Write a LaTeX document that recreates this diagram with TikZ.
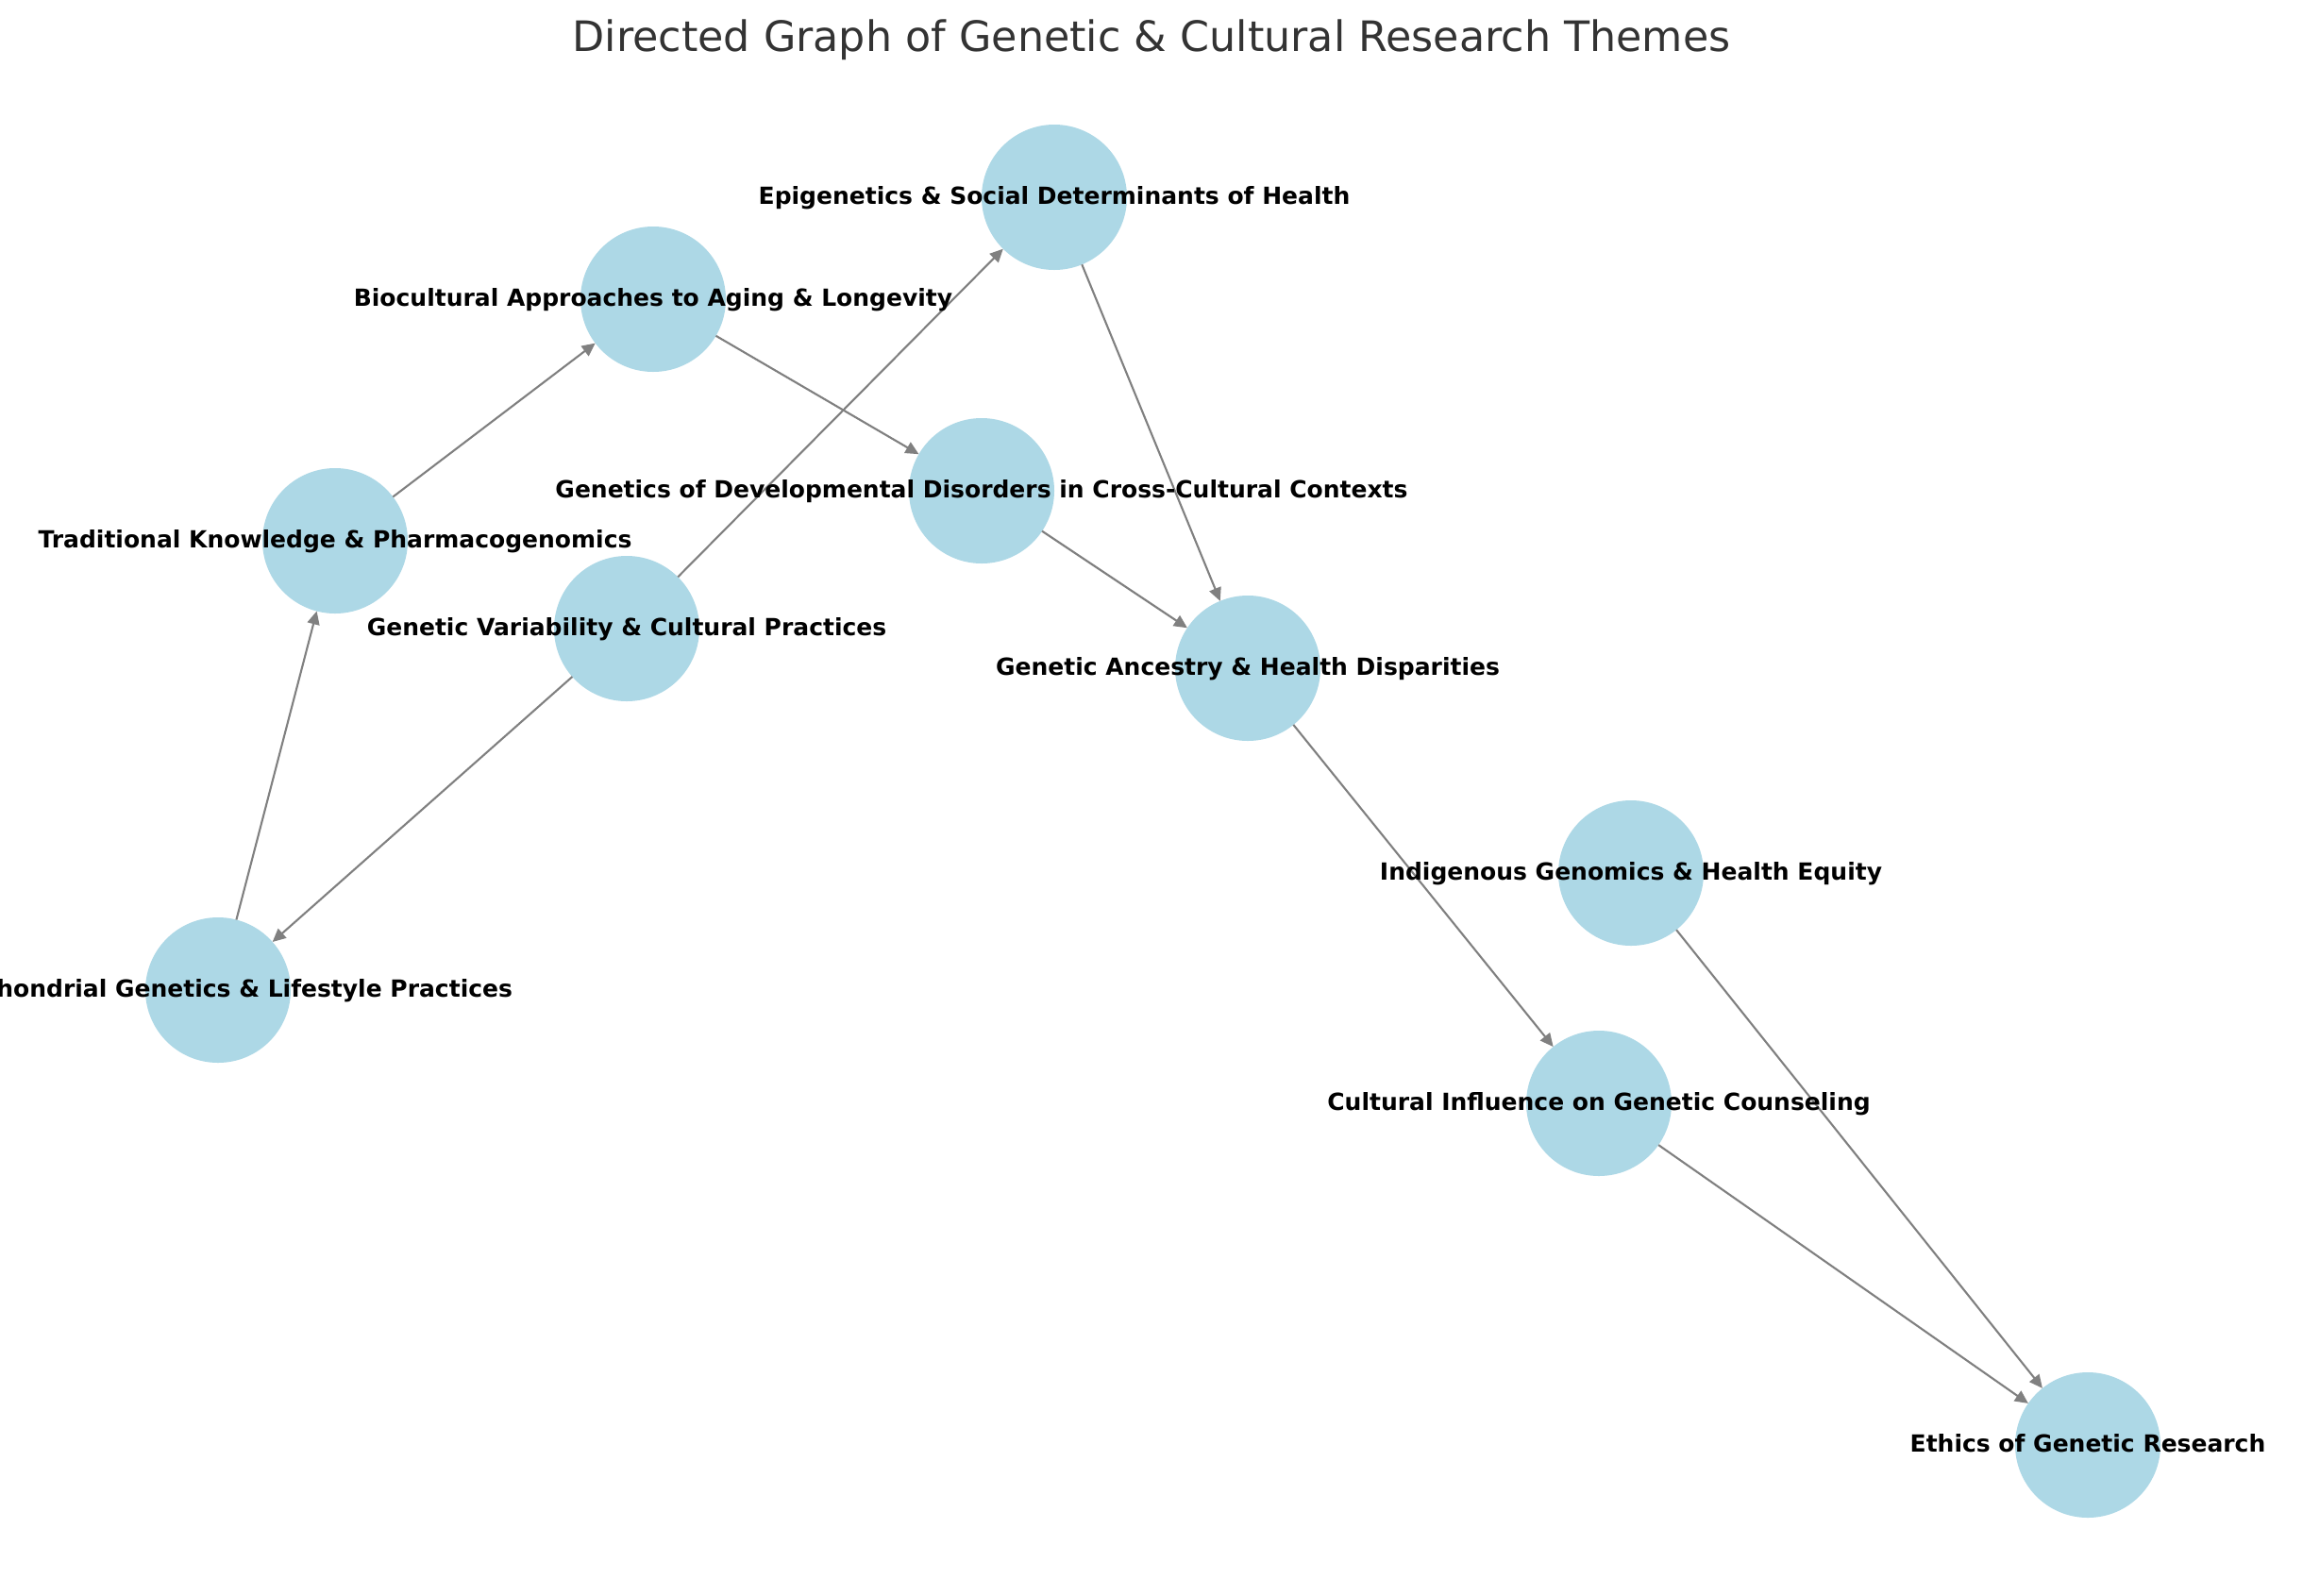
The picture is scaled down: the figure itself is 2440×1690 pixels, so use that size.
\documentclass[tikz,border=0pt]{standalone}
\usepackage{fontspec}
\setmainfont{DejaVu Sans}
\usetikzlibrary{arrows.meta}
\definecolor{nodeblue}{HTML}{ADD8E6}
\definecolor{edgegray}{HTML}{808080}
\definecolor{titlegray}{HTML}{333333}
\begin{document}
\begin{tikzpicture}[x=1pt,y=-1pt,
  topic/.style={circle,fill=nodeblue,draw=none,minimum size=154pt,inner sep=0pt,outer sep=0pt},
  lbl/.style={anchor=base,inner sep=0pt,font=\fontsize{25}{30}\selectfont\bfseries,text=black},
  edge/.style={draw=edgegray,line width=2.1pt,-{Triangle[length=14pt,width=13pt]}},
  ttl/.style={anchor=base,inner sep=0pt,font=\fontsize{44.4}{54}\selectfont,text=titlegray}]
\useasboundingbox (0,0) rectangle (2440,1690);
\clip (0,0) rectangle (2440,1690);
\fill[white] (0,0) rectangle (2440,1690);
\node[ttl] (title) at (1220,54) {Directed Graph of Genetic \& Cultural Research Themes};
% nodes
\node[topic] (epi) at (1117,209) {};
\node[topic] (bio) at (692,317) {};
\node[topic] (dev) at (1040,520) {};
\node[topic] (tra) at (355,573) {};
\node[topic] (var) at (664,666) {};
\node[topic] (anc) at (1322,708) {};
\node[topic] (ind) at (1728,925) {};
\node[topic] (mit) at (231,1049) {};
\node[topic] (cou) at (1694,1169) {};
\node[topic] (eth) at (2212,1531) {};
% edges
\draw[edge] (tra) -- (bio);
\draw[edge] (bio) -- (dev);
\draw[edge] (var) -- (epi);
\draw[edge] (var) -- (mit);
\draw[edge] (mit) -- (tra);
\draw[edge] (epi) -- (anc);
\draw[edge] (dev) -- (anc);
\draw[edge] (anc) -- (cou);
\draw[edge] (cou) -- (eth);
\draw[edge] (ind) -- (eth);
% labels
\node[lbl] (epiL) at ([yshift=-7.5pt]epi.center) {Epigenetics \& Social Determinants of Health};
\node[lbl] (bioL) at ([yshift=-7.5pt]bio.center) {Biocultural Approaches to Aging \& Longevity};
\node[lbl] (devL) at ([yshift=-7.5pt]dev.center) {Genetics of Developmental Disorders in Cross-Cultural Contexts};
\node[lbl] (traL) at ([yshift=-7.5pt]tra.center) {Traditional Knowledge \& Pharmacogenomics};
\node[lbl] (varL) at ([yshift=-7.5pt]var.center) {Genetic Variability \& Cultural Practices};
\node[lbl] (ancL) at ([yshift=-7.5pt]anc.center) {Genetic Ancestry \& Health Disparities};
\node[lbl] (indL) at ([yshift=-7.5pt]ind.center) {Indigenous Genomics \& Health Equity};
\node[lbl] (mitL) at ([yshift=-7.5pt]mit.center) {Mitochondrial Genetics \& Lifestyle Practices};
\node[lbl] (couL) at ([yshift=-7.5pt]cou.center) {Cultural Influence on Genetic Counseling};
\node[lbl] (ethL) at ([yshift=-7.5pt]eth.center) {Ethics of Genetic Research};
\end{tikzpicture}
\end{document}
